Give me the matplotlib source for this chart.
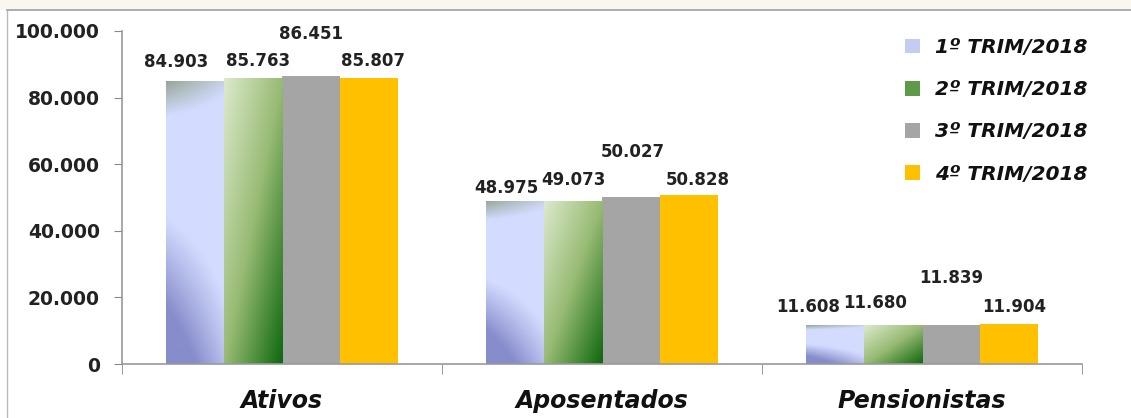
import numpy as np
import matplotlib
matplotlib.use("Agg")
import matplotlib.pyplot as plt
from matplotlib.colors import LinearSegmentedColormap
from matplotlib.patches import Patch, Rectangle
from matplotlib.ticker import FuncFormatter, FixedLocator

categories = ["Ativos", "Aposentados", "Pensionistas"]
series_names = ["1º TRIM/2018", "2º TRIM/2018", "3º TRIM/2018", "4º TRIM/2018"]
trim1 = [84903, 48975, 11608]
trim2 = [85763, 49073, 11680]
trim3 = [86451, 50027, 11839]
trim4 = [85807, 50828, 11904]
all_series = [trim1, trim2, trim3, trim4]

# label nudges (pixels) per series / category, mimicking excel's placement
label_dx = [[-19, -8, -27], [5, 1, -18], [0, 2, 0], [4, 8, 5]]
label_dy = [[19, 13, 18], [17, 21, 22], [42, 45, 47], [17, 15, 17]]

legend_colors = ["#C4CCF2", "#5E9A48", "#A5A5A5", "#FFC000"]
cmap1 = LinearSegmentedColormap.from_list("s1", [(0, "#878CCB"), (0.4, "#D3DCFF"), (0.85, "#D3DCFF"), (1.0, "#98A898")])
cmap2 = LinearSegmentedColormap.from_list("s2", [(0, "#DCE9CC"), (0.5, "#98BB74"), (1.0, "#0E680E")])

def fmt(v, pos=None):
    return "{:,.0f}".format(v).replace(",", ".")

fig = plt.figure(figsize=(11.31, 4.18), dpi=100)

# chart frame and the cream strip above it
fig.add_artist(Rectangle((0, 1 - 10/418), 1, 10/418, transform=fig.transFigure,
                         facecolor="#FAF8EE", edgecolor="none", zorder=0))
fig.add_artist(plt.Line2D([7/1131, 7/1131], [0, 1 - 10/418], transform=fig.transFigure, color="#BBBBBB", lw=1))
fig.add_artist(plt.Line2D([7/1131, 1], [1 - 10/418, 1 - 10/418], transform=fig.transFigure, color="#A0A0A0", lw=1.2))

ax = fig.add_axes([122/1131, 54/418, (1082-122)/1131, (364-31)/418])

x = np.arange(len(categories))
width = 0.182
bars_all = []
for i, vals in enumerate(all_series):
    pos = x + (i - 1.5) * width
    bars = ax.bar(pos, vals, width=width, color=legend_colors[i], edgecolor="none", zorder=2)
    bars_all.append(bars)

# gradient fills for first two series
yy, xx = np.mgrid[0:1:100j, 0:1:60j]
grad1 = np.clip(yy + 0.25 * (xx - 0.5) * (1 - yy) * 2 - 0.12 * xx * yy, 0, 1)
grad2 = np.clip((xx + (1 - yy)) / 2, 0, 1)
for bars, grad, cm in [(bars_all[0], grad1, cmap1), (bars_all[1], grad2, cmap2)]:
    for b in bars:
        x0, w, h = b.get_x(), b.get_width(), b.get_height()
        im = ax.imshow(grad, cmap=cm, vmin=0, vmax=1, origin="lower",
                       extent=[x0, x0 + w, 0, h], aspect="auto", zorder=2.5,
                       interpolation="bilinear")
        im.set_clip_path(b)
ax.set_aspect("auto")
ax.set_xlim(-0.5, 2.5)
ax.set_ylim(0, 100000)

for i, bars in enumerate(bars_all):
    for j, b in enumerate(bars):
        ax.annotate(fmt(all_series[i][j]), (b.get_x() + b.get_width() / 2, b.get_height()),
                    xytext=(label_dx[i][j], label_dy[i][j]), textcoords="offset pixels",
                    ha="center", va="center", fontsize=12, fontweight="bold",
                    color="#222222", zorder=4)

ax.yaxis.set_major_locator(FixedLocator(np.arange(0, 100001, 20000)))
ax.yaxis.set_major_formatter(FuncFormatter(fmt))
ax.tick_params(axis="y", direction="out", length=6, color="#888888", labelsize=13.5, pad=10)
for lab in ax.get_yticklabels():
    lab.set_fontweight("bold")
    lab.set_color("#222222")

ax.set_xticks(x)
ax.set_xticklabels(categories)
ax.set_xticks([-0.5, 0.5, 1.5, 2.5], minor=True)
ax.tick_params(axis="x", which="major", length=0, pad=18, labelsize=17)
ax.tick_params(axis="x", which="minor", direction="out", length=7, color="#888888")
for lab in ax.get_xticklabels():
    lab.set_fontweight("bold")
    lab.set_fontstyle("italic")
    lab.set_color("#111111")

for s in ["top", "right"]:
    ax.spines[s].set_visible(False)
for s in ["left", "bottom"]:
    ax.spines[s].set_color("#999999")
    ax.spines[s].set_linewidth(1.2)

handles = [Patch(facecolor=c, edgecolor="none") for c in legend_colors]
leg = fig.legend(handles, series_names, loc="upper left", bbox_to_anchor=(887/1131, 1 - 20/418),
                 frameon=False, handlelength=0.75, handleheight=0.75, handletextpad=0.75,
                 labelspacing=1.15, prop={"size": 14.5, "weight": "bold", "style": "italic"})
for t in leg.get_texts():
    t.set_color("#111111")

fig.savefig("out.png", dpi=100)
